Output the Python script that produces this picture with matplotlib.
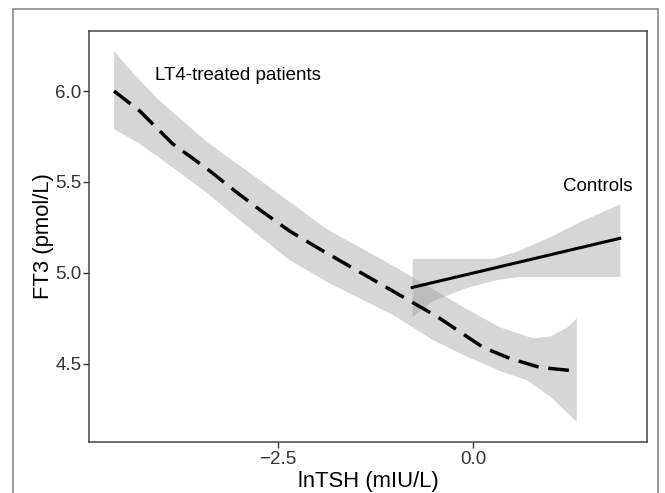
import matplotlib.pyplot as plt
from matplotlib.patches import Rectangle

plt.rcParams['font.family'] = ['Liberation Sans', 'DejaVu Sans']

# LT4-treated patients: smooth fit (dashed) and its confidence band
lt4_x = [-4.60, -4.27, -3.85, -3.40, -3.05, -2.71, -2.35, -1.96, -1.23, -0.46, 0.13, 0.47, 0.86, 1.33]
lt4_y = [6.00, 5.89, 5.71, 5.57, 5.45, 5.34, 5.23, 5.13, 4.95, 4.76, 4.59, 4.53, 4.48, 4.46]
lt4_up_x = [-4.60, -4.36, -4.05, -3.41, -2.99, -2.73, -2.35, -1.87, -1.03, -0.51, -0.08, 0.35, 0.77, 0.99, 1.21, 1.33]
lt4_up_y = [6.22, 6.10, 5.96, 5.72, 5.59, 5.51, 5.39, 5.24, 5.04, 4.91, 4.80, 4.70, 4.64, 4.65, 4.70, 4.75]
lt4_lo_x = [-4.60, -4.27, -3.85, -3.41, -2.99, -2.35, -1.87, -1.03, -0.51, -0.08, 0.35, 0.69, 0.99, 1.21, 1.33]
lt4_lo_y = [5.79, 5.71, 5.58, 5.44, 5.29, 5.07, 4.95, 4.77, 4.63, 4.54, 4.46, 4.41, 4.32, 4.23, 4.18]

# Controls: linear fit (solid) and its confidence band
ctrl_x = [-0.78, 1.88]
ctrl_y = [4.92, 5.19]
ctrl_band_x = [-0.78, -0.51, -0.08, 0.26, 0.56, 0.99, 1.41, 1.88]
ctrl_upper = [5.08, 5.08, 5.08, 5.08, 5.12, 5.20, 5.29, 5.38]
ctrl_lower = [4.76, 4.85, 4.92, 4.96, 4.98, 4.98, 4.98, 4.98]

fig = plt.figure(figsize=(6.65, 4.93), dpi=100)
ax = fig.add_axes([0.134, 0.1034, 0.839, 0.8336])

ax.fill(lt4_up_x + lt4_lo_x[::-1], lt4_up_y + lt4_lo_y[::-1],
        color='#999999', alpha=0.4, lw=0)
ax.fill_between(ctrl_band_x, ctrl_lower, ctrl_upper, color='#999999', alpha=0.4, lw=0)
ax.plot(lt4_x, lt4_y, color='black', lw=2.5, ls=(0, (6, 2.8)))
ax.plot(ctrl_x, ctrl_y, color='black', lw=2.2)

ax.text(-4.077, 6.088, 'LT4-treated patients', fontsize=13.5, va='center', ha='left')
ax.text(2.038, 5.473, 'Controls', fontsize=13.5, va='center', ha='right')

ax.set_xlim(-4.92, 2.23)
ax.set_ylim(4.07, 6.33)
ax.set_xticks([-2.5, 0.0])
ax.set_xticklabels(['\u22122.5', '0.0'])
ax.set_yticks([4.5, 5.0, 5.5, 6.0])
ax.set_yticklabels(['4.5', '5.0', '5.5', '6.0'])
ax.tick_params(colors='#333333', labelsize=13.5, length=4, width=1)
ax.tick_params(axis='y', pad=1.5)
ax.tick_params(axis='x', pad=2.5)
for s in ax.spines.values():
    s.set_color('#444444')
    s.set_linewidth(1.1)
ax.set_xlabel('lnTSH (mIU/L)', fontsize=15.8, labelpad=2)
ax.set_ylabel('FT3 (pmol/L)', fontsize=15.8, labelpad=1)

# outer frame around the figure
fig.patches.append(Rectangle((13 / 665, -0.02), 645 / 665, 1 - 9 / 493 + 0.02,
                             transform=fig.transFigure, fill=False,
                             edgecolor='#888888', lw=1.2))

fig.savefig('out.png', dpi=100)
